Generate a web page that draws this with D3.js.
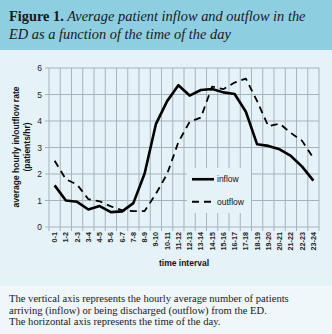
<!DOCTYPE html>
<html>
<head>
<meta charset="utf-8">
<script src="https://cdn.jsdelivr.net/npm/d3@7"></script>
<style>
  body { margin: 0; padding: 0; background: #eff7fb; }
  svg { display: block; }
</style>
</head>
<body>
<svg id="chart" width="332" height="334"></svg>
<script>
// data
const intervals = ["0-1","1-2","2-3","3-4","4-5","5-6","6-7","7-8","8-9","9-10","10-11","11-12",
  "12-13","13-14","14-15","15-16","16-17","17-18","18-19","19-20","20-21","21-22","22-23","23-24"];
const inflow = [1.57, 1.0, 0.95, 0.66, 0.79, 0.56, 0.59, 0.9, 2.02, 3.88, 4.75, 5.35,
  4.96, 5.17, 5.21, 5.08, 5.02, 4.35, 3.12, 3.06, 2.93, 2.68, 2.28, 1.75];
const outflow = [2.5, 1.8, 1.6, 1.05, 0.97, 0.78, 0.63, 0.6, 0.6, 1.25, 2.0, 3.2,
  3.97, 4.13, 5.3, 5.2, 5.45, 5.6, 4.75, 3.8, 3.9, 3.55, 3.25, 2.6];
const yTicks = [0, 1, 2, 3, 4, 5, 6];
const series = [
  { name: "inflow", values: inflow, dash: null, width: 2.6 },
  { name: "outflow", values: outflow, dash: "7,5", width: 1.8 }
];
const titleBold = "Figure 1.";
const titleRest = [" Average patient inflow and outflow in the", "ED as a function of the time of the day"];
const caption = [
  "The vertical axis represents the hourly average number of patients",
  "arriving (inflow) or being discharged (outflow) from the ED.",
  "The horizontal axis represents the time of the day."
];

const svg = d3.select("#chart");
const W = 332, H = 334;

// panels
svg.append("rect").attr("x", 0).attr("y", 0).attr("width", W).attr("height", 50).attr("fill", "#8dcfe0");
svg.append("rect").attr("x", 0).attr("y", 50).attr("width", W).attr("height", 236).attr("fill", "#e5f2f8");
svg.append("rect").attr("x", 0).attr("y", 286).attr("width", W).attr("height", 48).attr("fill", "#eff7fb");

// title
const serif = "'Liberation Serif', 'DejaVu Serif', serif";
const t1 = svg.append("text").attr("x", 9).attr("y", 21)
  .style("font-family", serif).style("font-size", "14.4px").attr("fill", "#1a1a1a");
t1.append("tspan").style("font-weight", "bold").text(titleBold);
t1.append("tspan").style("font-style", "italic").text(titleRest[0]);
svg.append("text").attr("x", 9).attr("y", 39)
  .style("font-family", serif).style("font-size", "14.4px").style("font-style", "italic")
  .attr("fill", "#1a1a1a").text(titleRest[1]);

// caption
svg.selectAll(".cap").data(caption).join("text")
  .attr("class", "cap")
  .attr("x", 9).attr("y", (d, i) => 302 + i * 11.5)
  .style("font-family", serif).style("font-size", "10.6px").attr("fill", "#1a1a1a")
  .text(d => d);

// plot
const pLeft = 49, pRight = 319, pTop = 68, pBottom = 227;
const x = d3.scaleBand().domain(intervals).range([pLeft, pRight]);
const y = d3.scaleLinear().domain([0, 6]).range([pBottom, pTop]);
const g = svg.append("g");
const gridCol = "#a7b3ba";

// horizontal gridlines
g.selectAll(".hg").data(yTicks).join("line")
  .attr("x1", pLeft - 4).attr("x2", pRight)
  .attr("y1", d => y(d)).attr("y2", d => y(d))
  .attr("stroke", gridCol).attr("stroke-width", 1);

// vertical gridlines at band boundaries
const bounds = intervals.map(d => x(d)).concat([pRight]);
g.selectAll(".vg").data(bounds).join("line")
  .attr("x1", d => d).attr("x2", d => d)
  .attr("y1", pTop).attr("y2", pBottom + 4)
  .attr("stroke", gridCol).attr("stroke-width", 1);

// legend box covers grid
const lg = svg.append("g");
lg.append("rect").attr("x", 187).attr("y", 168).attr("width", 64).attr("height", 45).attr("fill", "#e5f2f8");

// y tick labels
const sans = "'Liberation Sans', Arial, sans-serif";
g.selectAll(".yl").data(yTicks).join("text")
  .attr("x", 42).attr("y", d => y(d) + 3)
  .attr("text-anchor", "end")
  .style("font-family", sans).style("font-size", "8.5px").attr("fill", "#222")
  .text(d => d);

// x tick labels
g.selectAll(".xl").data(intervals).join("text")
  .attr("transform", d => `translate(${x(d) + x.bandwidth() / 2 + 2.5},232) rotate(-90)`)
  .attr("text-anchor", "end")
  .style("font-family", sans).style("font-size", "7.2px").style("font-weight", "bold").attr("fill", "#222")
  .text(d => d);

// axis titles
svg.append("text").attr("x", 184).attr("y", 266).attr("text-anchor", "middle")
  .style("font-family", sans).style("font-size", "8.5px").style("font-weight", "bold").attr("fill", "#111")
  .text("time interval");
svg.append("text").attr("transform", "translate(19,147) rotate(-90)").attr("text-anchor", "middle")
  .style("font-family", sans).style("font-size", "8.5px").style("font-weight", "bold").attr("fill", "#111")
  .text("average hourly in/outflow rate");
svg.append("text").attr("transform", "translate(30,147) rotate(-90)").attr("text-anchor", "middle")
  .style("font-family", sans).style("font-size", "8.5px").style("font-weight", "bold").attr("fill", "#111")
  .text("(patients/hr)");

// lines
const line = d3.line()
  .x((d, i) => x(intervals[i]) + x.bandwidth() / 2)
  .y(d => y(d));
svg.selectAll(".series").data(series).join("path")
  .attr("d", d => line(d.values))
  .attr("fill", "none")
  .attr("stroke", "#000")
  .attr("stroke-width", d => d.width)
  .attr("stroke-dasharray", d => d.dash)
  .attr("stroke-linejoin", "round");

// legend
const ly = d3.scaleBand().domain(series.map(d => d.name)).range([168, 213]);
const items = lg.selectAll(".li").data(series).join("g")
  .attr("transform", d => `translate(0,${ly(d.name) + ly.bandwidth() / 2})`);
items.append("line").attr("x1", 192).attr("x2", 214).attr("y1", 0).attr("y2", 0)
  .attr("stroke", "#000").attr("stroke-width", d => d.width)
  .attr("stroke-dasharray", d => d.dash);
items.append("text").attr("x", 217).attr("y", 3)
  .style("font-family", sans).style("font-size", "8.5px").attr("fill", "#111")
  .text(d => d.name);
</script>
</body>
</html>
